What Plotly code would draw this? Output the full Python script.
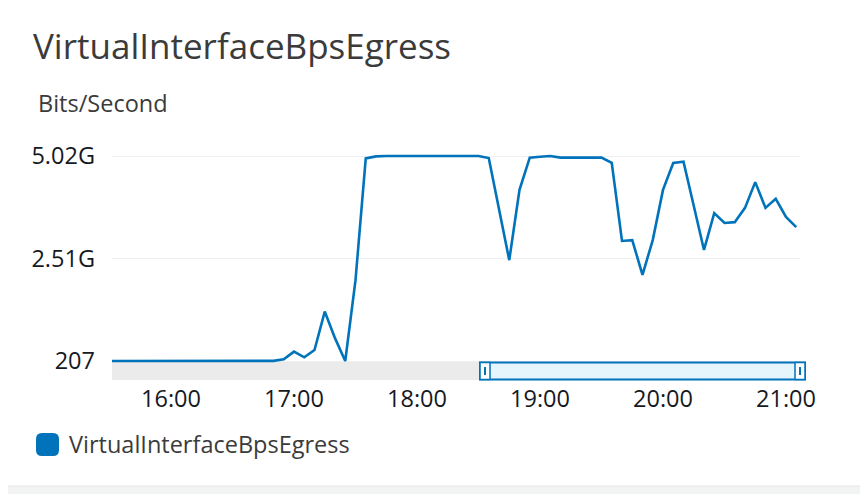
import pandas as pd
import plotly.graph_objects as go

W, H = 868, 494
OFF = 8  # page body margin, positions below are page pixels

# plot area in page pixels
PL, PR, PT, PB = 112, 800, 154, 363

LINE_COLOR = '#0073bb'
FONT = 'Open Sans'

# 5 minute samples, starting 15:30
times = pd.date_range('2023-05-10 15:30', periods=68, freq='5min')

# Bits/second
egress = [
    260, 240, 230, 250, 220, 240, 230, 210,
    250, 240, 220, 230, 260, 240, 210, 230,
    2.1e6, 0.04e9, 0.23e9, 0.09e9, 0.27e9, 1.21e9, 0.56e9, 207,
    1.98e9, 4.96e9, 5.01e9, 5.02e9, 5.02e9, 5.02e9, 5.02e9, 5.02e9,
    5.02e9, 5.02e9, 5.02e9, 5.02e9, 5.02e9, 4.97e9, 3.70e9, 2.47e9,
    4.19e9, 4.98e9, 5.00e9, 5.02e9, 4.98e9, 4.98e9, 4.98e9, 4.98e9,
    4.98e9, 4.85e9, 2.94e9, 2.96e9, 2.11e9, 2.96e9, 4.19e9, 4.85e9,
    4.88e9, 3.80e9, 2.72e9, 3.62e9, 3.38e9, 3.40e9, 3.75e9, 4.38e9,
    3.75e9, 3.97e9, 3.53e9, 3.28e9,
]

y_ticks = [207, 2.51e9, 5.02e9]
y_tick_text = ['207', '2.51G', '5.02G']
x_range = ['2023-05-10 15:31:13', '2023-05-10 21:06:50']
y_range = [-0.049e9, 5.069e9]

title = 'VirtualInterfaceBpsEgress'
unit = 'Bits/Second'


def px_x(px):
    return (px - PL) / (PR - PL)


def px_y(py):
    return (PB - py) / (PB - PT)


def rounded_rect(x0, y0, x1, y1, r):
    # path in paper coords from page pixel box
    pts = [
        ('M', x0 + r, y0), ('L', x1 - r, y0), ('Q', x1, y0, x1, y0 + r),
        ('L', x1, y1 - r), ('Q', x1, y1, x1 - r, y1),
        ('L', x0 + r, y1), ('Q', x0, y1, x0, y1 - r),
        ('L', x0, y0 + r), ('Q', x0, y0, x0 + r, y0),
    ]
    out = []
    for p in pts:
        cmd, coords = p[0], p[1:]
        xy = []
        for i in range(0, len(coords), 2):
            xy.append(f'{px_x(coords[i]):.5f},{px_y(coords[i + 1]):.5f}')
        out.append(cmd + ' ' + ' '.join(xy))
    return ' '.join(out) + ' Z'


fig = go.Figure()

fig.add_trace(go.Scatter(
    x=times,
    y=egress,
    mode='lines',
    line=dict(color=LINE_COLOR, width=2.6),
    name=title,
    showlegend=False,
))

shapes = [
    # card
    dict(type='rect', xref='paper', yref='paper',
         x0=px_x(6), x1=px_x(862), y0=px_y(486), y1=px_y(6),
         fillcolor='white', line=dict(color='#e4e6e6', width=1), layer='below'),
    # range slider band
    dict(type='rect', xref='paper', yref='paper',
         x0=px_x(112), x1=px_x(480), y0=px_y(380), y1=px_y(361),
         fillcolor='#ebebeb', line=dict(width=0), layer='below'),
    # brush
    dict(type='rect', xref='paper', yref='paper',
         x0=px_x(480), x1=px_x(805), y0=px_y(379.5), y1=px_y(362.5),
         fillcolor='#e6f4fb', line=dict(color=LINE_COLOR, width=2), layer='above'),
]

# brush handles
for hx in (480, 795):
    shapes.append(dict(type='rect', xref='paper', yref='paper',
                       x0=px_x(hx), x1=px_x(hx + 10), y0=px_y(379.5), y1=px_y(362.5),
                       fillcolor='white', line=dict(color=LINE_COLOR, width=1.5), layer='above'))
    shapes.append(dict(type='line', xref='paper', yref='paper',
                       x0=px_x(hx + 5), x1=px_x(hx + 5), y0=px_y(375), y1=px_y(367),
                       line=dict(color=LINE_COLOR, width=2), layer='above'))

# legend marker
shapes.append(dict(type='path', xref='paper', yref='paper',
                   path=rounded_rect(36, 433, 59, 456, 6),
                   fillcolor=LINE_COLOR, line=dict(width=0), layer='above'))

annotations = [
    dict(text=title, xref='paper', yref='paper', x=px_x(31), y=px_y(45),
         xanchor='left', yanchor='middle', showarrow=False,
         font=dict(family=FONT, size=35, color='#3b3b3b')),
    dict(text=unit, xref='paper', yref='paper', x=px_x(36), y=px_y(103),
         xanchor='left', yanchor='middle', showarrow=False,
         font=dict(family=FONT, size=23.5, color='#3b3b3b')),
    dict(text=title, xref='paper', yref='paper', x=px_x(67), y=px_y(444),
         xanchor='left', yanchor='middle', showarrow=False,
         font=dict(family=FONT, size=23.5, color='#3b3b3b')),
]

fig.update_layout(
    width=W,
    height=H,
    margin=dict(l=PL - OFF, r=W - PR + OFF, t=PT - OFF, b=H - PB + OFF, pad=0),
    paper_bgcolor='#f2f3f3',
    plot_bgcolor='rgba(0,0,0,0)',
    font=dict(family=FONT, size=23.5, color='#16191f'),
    showlegend=False,
    shapes=shapes,
    annotations=annotations,
    xaxis=dict(
        range=x_range,
        tickformat='%H:%M',
        dtick=3600000,
        tick0='2023-05-10 16:00',
        showgrid=False,
        zeroline=False,
        showline=False,
        ticks='',
        ticklabelstandoff=19,
        tickfont=dict(size=23.5, color='#16191f'),
    ),
    yaxis=dict(
        range=y_range,
        tickvals=y_ticks,
        ticktext=y_tick_text,
        showgrid=True,
        gridcolor='#eef0f0',
        gridwidth=1,
        zeroline=False,
        showline=False,
        ticks='',
        ticklabelstandoff=16,
        tickfont=dict(size=23.5, color='#16191f'),
    ),
)

fig.write_html('out.html')
